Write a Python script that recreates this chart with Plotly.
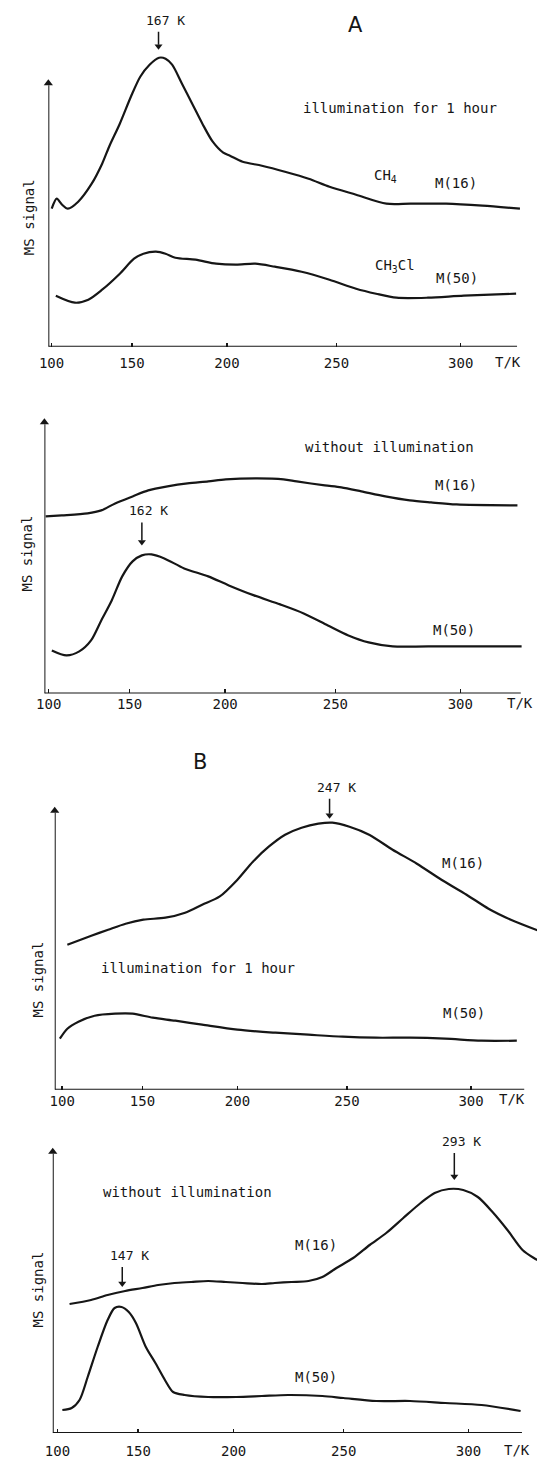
import plotly.graph_objects as go

W, H = 537, 1460

# ---------------- data (T in K, MS signal in arbitrary units) ----------------
T_TICKS = [100, 150, 200, 250, 300]
TICK_TEXT = ["100", "150", "200", "250", "300"]

# Panel A, illumination for 1 hour
a1_m16_T = [100.1, 103.5, 107.1, 110.9, 117.6, 126.1, 132.5, 136.7, 143.0, 149.4,
            154.7, 159.9, 165.1, 168.6, 172.1, 177.3, 182.6, 187.8, 193.0, 198.2,
            201.5, 207.6, 216.7, 227.3, 237.9, 247.0, 258.3, 270.8, 280.5, 294.4,
            308.2, 322.0]
a1_m16_s = [138, 148, 142, 138, 145, 163, 183, 200, 223, 250,
            270, 282, 289, 288, 282, 263, 243, 223, 205, 194,
            191, 185, 181, 175, 168, 160, 152, 143, 143, 143,
            141, 138]
a1_m50_T = [102.9, 115.5, 124.0, 132.5, 143.0, 151.2, 156.5, 163.4, 168.6, 173.8,
            184.3, 194.7, 204.5, 213.6, 222.7, 234.8, 247.0, 258.3, 266.6, 274.9,
            287.4, 301.2, 320.6]
a1_m50_s = [51, 44, 47, 57, 73, 88, 93, 95, 93, 89,
            87, 83, 82, 83, 80, 75, 67, 58, 53, 49,
            49, 51, 53]

# Panel A, without illumination
a2_m16_T = [97.9, 108.7, 125.2, 133.5, 141.7, 151.7, 160.4, 170.8, 181.2, 191.7,
            200.3, 215.3, 227.3, 233.2, 245.5, 252.5, 260.9, 270.7, 280.5, 288.8,
            298.6, 321.1]
a2_m16_s = [177, 178, 180, 183, 190, 197, 203, 207, 210, 212,
            214, 215, 214, 212, 208, 206, 202, 197, 193, 191,
            189, 188]
a2_m50_T = [102.1, 111.8, 120.0, 127.3, 133.5, 139.7, 145.8, 151.7, 156.9, 162.2,
            169.1, 179.5, 191.7, 201.8, 213.8, 225.8, 236.3, 246.8, 255.5, 263.9,
            273.7, 287.7, 322.6]
a2_m50_s = [43, 38, 42, 53, 73, 93, 117, 132, 138, 139,
            135, 125, 117, 108, 98, 89, 80, 68, 58, 51,
            47, 47, 47]

# Panel B, illumination for 1 hour
b1_m16_T = [103.5, 119.2, 129.7, 140.2, 150.5, 162.8, 173.4, 182.3, 191.1, 200.0,
            207.5, 215.0, 222.6, 230.1, 237.6, 243.7, 251.1, 259.4, 269.1, 278.9,
            288.6, 298.3, 306.6, 314.9, 326.0]
b1_m16_s = [145, 154, 160, 166, 170, 172, 177, 185, 193, 210,
            228, 243, 255, 262, 266, 267, 263, 255, 240, 226,
            210, 195, 181, 170, 158]
b1_m50_T = [98.4, 103.5, 110.9, 121.3, 133.9, 144.3, 155.8, 168.2, 182.3, 200.0,
            218.1, 233.2, 248.2, 262.2, 276.1, 290.0, 303.9, 317.1]
b1_m50_s = [51, 61, 68, 74, 76, 76, 72, 69, 65, 60,
            57, 55, 53, 52, 52, 51, 49, 49]

# Panel B, without illumination
b2_m16_T = [108.1, 121.9, 132.1, 142.5, 152.4, 161.1, 169.9, 178.7, 187.4, 196.2,
            204.3, 213.5, 219.5, 227.1, 234.7, 240.8, 246.9, 254.0, 260.9, 267.7,
            274.6, 281.5, 287.0, 292.5, 298.0, 303.5, 309.0, 314.5, 320.0, 324.1,
            326.9]
b2_m16_s = [129, 133, 138, 142, 145, 148, 150, 151, 152, 151,
            150, 149, 150, 151, 152, 156, 165, 175, 188, 200,
            215, 230, 240, 244, 243, 236, 221, 203, 183, 175,
            171]
b2_m50_T = [103.3, 109.5, 114.6, 119.8, 126.0, 132.1, 136.3, 140.4, 144.6, 148.7,
            154.3, 159.6, 164.8, 169.2, 175.3, 187.4, 201.3, 213.5, 225.6, 240.8,
            249.9, 263.6, 277.3, 291.1, 304.9, 319.3]
b2_m50_s = [23, 25, 33, 56, 86, 113, 125, 126, 121, 110,
            86, 70, 53, 41, 38, 36, 36, 37, 38, 37,
            35, 32, 32, 30, 28, 22]

# peak markers: panel index, label, temperature position, signal at arrow tip
peak_panel = [1, 2, 3, 4, 4]
peak_label = ["167 K", "162 K", "247 K", "293 K", "147 K"]
peak_T = [164.8, 156.9, 242.5, 294.6, 140.8]
peak_s = [297, 148, 271, 253, 146]

series = [
    (1, a1_m16_T, a1_m16_s), (1, a1_m50_T, a1_m50_s),
    (2, a2_m16_T, a2_m16_s), (2, a2_m50_T, a2_m50_s),
    (3, b1_m16_T, b1_m16_s), (3, b1_m50_T, b1_m50_s),
    (4, b2_m16_T, b2_m16_s), (4, b2_m50_T, b2_m50_s),
]

# ---------------- layout geometry (pixels of the page) ----------------
# the temperature axis of the original is drawn on a slightly stretched scale
def warp(T):
    t = T - 100.0
    return t + 0.002 * t * t

panels = {
    1: dict(left=40.0, bottom=346.7, top=4, x0=43.3, scale=1.486, end=516.7, tip=79.3, standoff=6),
    2: dict(left=36.0, bottom=693.4, top=410, x0=40.4, scale=1.495, end=520.5, tip=418.3, standoff=1),
    3: dict(left=46.5, bottom=1089.7, top=770, x0=54.1, scale=1.485, end=524.0, tip=806.7, standoff=1),
    4: dict(left=44.5, bottom=1433.0, top=1125, x0=49.3, scale=1.493, end=521.7, tip=1147.7, standoff=8),
}
peak_len = [18, 23, 20, 27, 20]

MONO = "DejaVu Sans Mono, monospace"
INK = "#161616"

fig = go.Figure()
for p, T, s in series:
    fig.add_trace(go.Scatter(
        x=[warp(v) for v in T], y=s, mode="lines",
        line=dict(color=INK, width=2.2, shape="spline", smoothing=0.8),
        xaxis=f"x{p}", yaxis=f"y{p}", showlegend=False, hoverinfo="skip"))

layout = dict(width=W, height=H, margin=dict(l=0, r=0, t=0, b=0),
              paper_bgcolor="white", plot_bgcolor="white", showlegend=False)
shapes = []
annotations = []

for p, g in panels.items():
    u_left = (g["left"] - g["x0"]) / g["scale"]
    u_right = (W - g["x0"]) / g["scale"]
    u_end = (g["end"] - g["x0"]) / g["scale"]
    hgt = g["bottom"] - g["top"]
    tip_s = g["bottom"] - g["tip"]
    layout[f"xaxis{p}"] = dict(
        domain=[g["left"] / W, 1.0], range=[u_left, u_right], anchor=f"y{p}",
        tickvals=[warp(t) for t in T_TICKS], ticktext=TICK_TEXT,
        ticks="inside", ticklen=4, tickwidth=1.5, tickcolor=INK,
        showgrid=False, zeroline=False, showline=False,
        ticklabelstandoff=g["standoff"],
        tickfont=dict(family=MONO, size=14, color=INK))
    layout[f"yaxis{p}"] = dict(
        domain=[1 - g["bottom"] / H, 1 - g["top"] / H], range=[0, hgt],
        anchor=f"x{p}", showgrid=False, zeroline=False, showline=False,
        showticklabels=False, ticks="")
    # x axis line and y axis shaft
    shapes.append(dict(type="line", xref=f"x{p}", yref=f"y{p}",
                       x0=u_left, x1=u_end, y0=0, y1=0,
                       line=dict(color=INK, width=2)))
    shapes.append(dict(type="line", xref=f"x{p}", yref=f"y{p}",
                       x0=u_left, x1=u_left, y0=0, y1=tip_s - 6,
                       line=dict(color=INK, width=2)))
    # y axis arrow head
    fig.add_trace(go.Scatter(
        x=[u_left], y=[tip_s - 4], mode="markers",
        marker=dict(symbol="triangle-up", size=8, color=INK, line=dict(width=0)),
        xaxis=f"x{p}", yaxis=f"y{p}", cliponaxis=False,
        showlegend=False, hoverinfo="skip"))

# peak arrows (shaft + head) and their labels
for p, lab, T, s, ln in zip(peak_panel, peak_label, peak_T, peak_s, peak_len):
    u = warp(T)
    shapes.append(dict(type="line", xref=f"x{p}", yref=f"y{p}",
                       x0=u, x1=u, y0=s + 5, y1=s + ln,
                       line=dict(color=INK, width=1.5)))
    fig.add_trace(go.Scatter(
        x=[u], y=[s + 3.5], mode="markers",
        marker=dict(symbol="triangle-down", size=7, color=INK, line=dict(width=0)),
        xaxis=f"x{p}", yaxis=f"y{p}", cliponaxis=False,
        showlegend=False, hoverinfo="skip"))
    annotations.append(dict(xref=f"x{p}", yref=f"y{p}", x=u, y=s + ln + 2,
                            xshift=7, text=lab, showarrow=False,
                            xanchor="center", yanchor="bottom",
                            font=dict(family=MONO, size=13, color=INK)))


def txt(text, px, py, size=14, family=MONO, angle=0, xanchor="center"):
    annotations.append(dict(xref="paper", yref="paper", x=px / W, y=1 - py / H,
                            text=text, showarrow=False, textangle=angle,
                            xanchor=xanchor, yanchor="middle",
                            font=dict(family=family, size=size, color=INK)))

# panel A, top
txt("A", 352.7, 25, size=21, family="DejaVu Sans, sans-serif")
txt("illumination for 1 hour", 398, 108.3)
txt("CH<sub>4</sub>", 369, 176, xanchor="left")
txt("M(16)", 455, 183)
txt("CH<sub>3</sub>Cl", 370, 266, xanchor="left")
txt("M(50)", 456, 278)
txt("MS signal", 20.5, 217, angle=-90)
txt("T/K", 508, 362)
# panel A, bottom
txt("without illumination", 387, 446.7)
txt("M(16)", 455, 485)
txt("M(50)", 453, 630)
txt("MS signal", 18.8, 553, angle=-90)
txt("T/K", 520, 703)
# panel B, top
txt("B", 194, 761.7, size=21, family="DejaVu Sans, sans-serif")
txt("M(16)", 462, 863)
txt("illumination for 1 hour", 192, 968)
txt("M(50)", 463, 1013)
txt("MS signal", 29, 980, angle=-90)
txt("T/K", 512, 1099)
# panel B, bottom
txt("without illumination", 181.5, 1191.7)
txt("M(16)", 312.7, 1245)
txt("M(50)", 312, 1376.7)
txt("MS signal", 29, 1290, angle=-90)
txt("T/K", 517, 1450)

layout["shapes"] = shapes
layout["annotations"] = annotations
fig.update_layout(**layout)
fig.write_html("out.html",
               config={"displayModeBar": False, "staticPlot": True},
               post_script="document.body.style.margin='0';document.body.style.overflow='hidden';")
